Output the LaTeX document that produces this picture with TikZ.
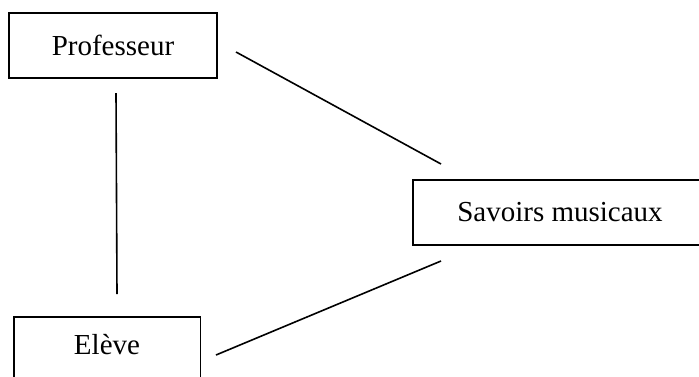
\documentclass[tikz,border=0pt]{standalone}
\usepackage{fontspec}
\setmainfont{Liberation Serif}
\begin{document}
\begin{tikzpicture}[x=0.75pt,y=-0.75pt,
  box/.style={draw, line width=0.9pt, rectangle, inner sep=0pt, minimum height=65*0.75pt},
  lbl/.style={inner sep=0pt, font=\fontsize{21.75}{26}\selectfont},
  link/.style={line width=1.2pt}]
\useasboundingbox (0,0) rectangle (699,376);
\clip (0,0) rectangle (699,376);
\node[box, lbl, minimum width=208*0.75pt] (prof) at (113,45.5) {Professeur};
\node[box, lbl, minimum width=294*0.75pt] (sav) at (560,212.5) {Savoirs musicaux};
\node[box, minimum width=186.5*0.75pt] (elv) at (107.25,349.5) {};
\node[lbl] (elvt) at (107,345) {Elève};
\coordinate (p1) at (116,93);
\coordinate (e1) at (117,294);
\coordinate (p2) at (236,52);
\coordinate (s1) at (441,164);
\coordinate (s2) at (441,261);
\coordinate (e2) at (216,355);
\draw[link] (p1) -- (e1);
\draw[link] (p2) -- (s1);
\draw[link] (s2) -- (e2);
\end{tikzpicture}
\end{document}
